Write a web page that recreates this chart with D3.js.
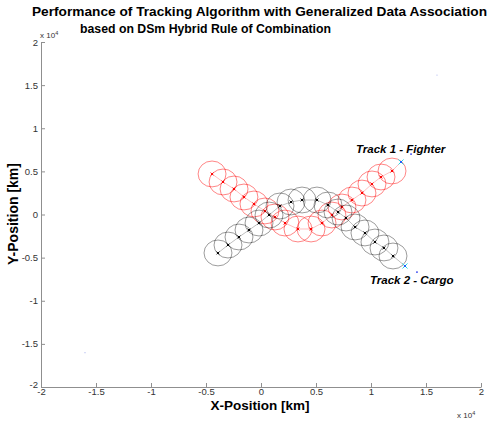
<!DOCTYPE html>
<html>
<head>
<meta charset="utf-8">
<script src="https://cdn.jsdelivr.net/npm/d3@7"></script>
<style>
  html, body { margin: 0; padding: 0; background: #fff; }
  svg { display: block; font-family: "Liberation Sans", Arial, sans-serif; }
</style>
</head>
<body>
<svg id="chart"></svg>
<script>
// Track 1 - Fighter (estimated positions, km)
const fighterX = [-4450, -3450, -2450, -1550, -640, 360, 1270, 2180, 3360, 4550,
                  5550, 6450, 7360, 8270, 9180, 10090, 10910, 11910, 12730];
const fighterY = [4700, 3770, 2960, 2030, 1220, 410, -290, -990, -1680, -1680,
                  -990, -60, 870, 1680, 2490, 3540, 4350, 5040, 6090];

// Track 2 - Cargo (estimated positions, km)
const cargoX = [-3910, -3000, -2000, -1090, -180, 730, 1730, 2730, 3730, 5090,
                6090, 7000, 7730, 8550, 9450, 10360, 11180, 12000, 13090];
const cargoY = [-4460, -3540, -2610, -1800, -990, -60, 990, 1450, 1680, 1680,
                1100, 290, -410, -1450, -2140, -3190, -3880, -4810, -5970];

// validation gate half-widths (km)
const gateX = 1270;
const gateY = 1500;

// label anchor points and stray points
const labelPoints = [[13640, 7010], [14180, -6670]];
const strayPoints = [[16000, 16170], [-16000, -16020]];

const xTicks = [-2, -1.5, -1, -0.5, 0, 0.5, 1, 1.5, 2];
const yTicks = [-2, -1.5, -1, -0.5, 0, 0.5, 1, 1.5, 2];

const titleLines = ['Performance of Tracking Algorithm with Generalized Data Association',
                    'based on DSm Hybrid Rule of Combination'];

const W = 490, H = 421;
const svg = d3.select('#chart').attr('width', W).attr('height', H);

const x = d3.scaleLinear().domain([-20000, 20000]).range([41, 481]);
const y = d3.scaleLinear().domain([-20000, 20000]).range([387, 42]);

const axisColor = '#8f8f8f';
const labelColor = '#333';

// axes (MATLAB style: ticks point inward, no box)
const xAxis = svg.append('g')
  .attr('transform', `translate(0,${y(-20000)})`)
  .call(d3.axisBottom(x).tickValues(xTicks.map(d => d * 1e4))
    .tickSizeInner(-4).tickSizeOuter(0).tickPadding(3)
    .tickFormat(d => d / 1e4));
xAxis.select('.domain').attr('stroke', axisColor);
xAxis.selectAll('.tick line').attr('stroke', axisColor);
xAxis.selectAll('.tick text').attr('fill', labelColor).style('font-size', '9.5px').attr('dy', '0.5em');

const yAxis = svg.append('g')
  .attr('transform', `translate(${x(-20000)},0)`)
  .call(d3.axisLeft(y).tickValues(yTicks.map(d => d * 1e4))
    .tickSizeInner(-4).tickSizeOuter(0).tickPadding(3)
    .tickFormat(d => d / 1e4));
yAxis.select('.domain').attr('stroke', axisColor);
yAxis.selectAll('.tick line').attr('stroke', axisColor);
yAxis.selectAll('.tick text').attr('fill', labelColor).style('font-size', '9.5px')
  .attr('dy', d => d === -20000 ? '0.05em' : '0.32em');

// exponent labels
function expLabel(px, py) {
  const t = svg.append('text').attr('x', px).attr('y', py)
    .attr('fill', labelColor).style('font-size', '8px');
  t.append('tspan').text('x 10');
  t.append('tspan').attr('dy', -3).style('font-size', '5.5px').text('4');
}
expLabel(40, 38);
expLabel(457, 418);

// axis titles
svg.append('text')
  .attr('x', 260).attr('y', 409.5)
  .attr('text-anchor', 'middle')
  .style('font-size', '13.5px').style('font-weight', 'bold')
  .text('X-Position [km]');

svg.append('text')
  .attr('transform', `translate(18,214) rotate(-90)`)
  .attr('text-anchor', 'middle')
  .style('font-size', '14px').style('font-weight', 'bold')
  .text('Y-Position [km]');

// title, two lines
svg.append('text').attr('x', 32).attr('y', 16)
  .style('font-size', '12.5px').style('font-weight', 'bold')
  .attr('textLength', 455).attr('lengthAdjust', 'spacingAndGlyphs')
  .text(titleLines[0]);
svg.append('text').attr('x', 80).attr('y', 33)
  .style('font-size', '12.5px').style('font-weight', 'bold')
  .attr('textLength', 251).attr('lengthAdjust', 'spacingAndGlyphs')
  .text(titleLines[1]);

// draw one track: gates, path, markers
function drawTrack(xs, ys, color, opacity) {
  const pts = xs.map((d, i) => ({ x: d, y: ys[i] }));
  const g = svg.append('g');

  g.selectAll('ellipse')
    .data(pts.slice(0, -1))
    .enter().append('ellipse')
    .attr('cx', d => x(d.x))
    .attr('cy', d => y(d.y))
    .attr('rx', d => x(d.x + gateX) - x(d.x))
    .attr('ry', d => y(d.y) - y(d.y + gateY))
    .attr('fill', 'none')
    .attr('stroke', color)
    .attr('stroke-opacity', opacity)
    .attr('stroke-width', 0.6);

  g.append('path')
    .datum(pts)
    .attr('d', d3.line().x(d => x(d.x)).y(d => y(d.y)))
    .attr('fill', 'none')
    .attr('stroke', color)
    .attr('stroke-opacity', 0.5)
    .attr('stroke-width', 0.5);

  g.selectAll('path.mk')
    .data(pts)
    .enter().append('path')
    .attr('class', 'mk')
    .attr('transform', d => `translate(${x(d.x)},${y(d.y)})`)
    .attr('d', d3.symbol(d3.symbolTimes, 6))
    .attr('stroke', color)
    .attr('stroke-width', 1);

  // current position marker
  const last = pts[pts.length - 1];
  g.append('path')
    .attr('transform', `translate(${x(last.x)},${y(last.y)})`)
    .attr('d', d3.symbol(d3.symbolTimes, 18))
    .attr('stroke', '#22d8e8')
    .attr('stroke-width', 1);
  g.append('circle')
    .attr('cx', x(last.x)).attr('cy', y(last.y)).attr('r', 1)
    .attr('fill', '#1a3cff');
}

drawTrack(fighterX, fighterY, '#ff0000', 0.8);
drawTrack(cargoX, cargoY, '#000000', 0.65);

// little blue dots next to the labels
svg.selectAll('circle.lp')
  .data(labelPoints)
  .enter().append('circle')
  .attr('class', 'lp')
  .attr('cx', d => x(d[0])).attr('cy', d => y(d[1])).attr('r', 0.9)
  .attr('fill', '#2233ee');

svg.selectAll('circle.sp')
  .data(strayPoints)
  .enter().append('circle')
  .attr('class', 'sp')
  .attr('cx', d => x(d[0])).attr('cy', d => y(d[1])).attr('r', 0.6)
  .attr('fill', '#aab4ee');

// track labels
svg.append('text').attr('x', 356).attr('y', 153)
  .style('font-size', '11.5px').style('font-weight', 'bold').style('font-style', 'italic')
  .text('Track 1 - Fighter');
svg.append('text').attr('x', 370).attr('y', 284)
  .style('font-size', '11.5px').style('font-weight', 'bold').style('font-style', 'italic')
  .text('Track 2 - Cargo');
</script>
</body>
</html>
